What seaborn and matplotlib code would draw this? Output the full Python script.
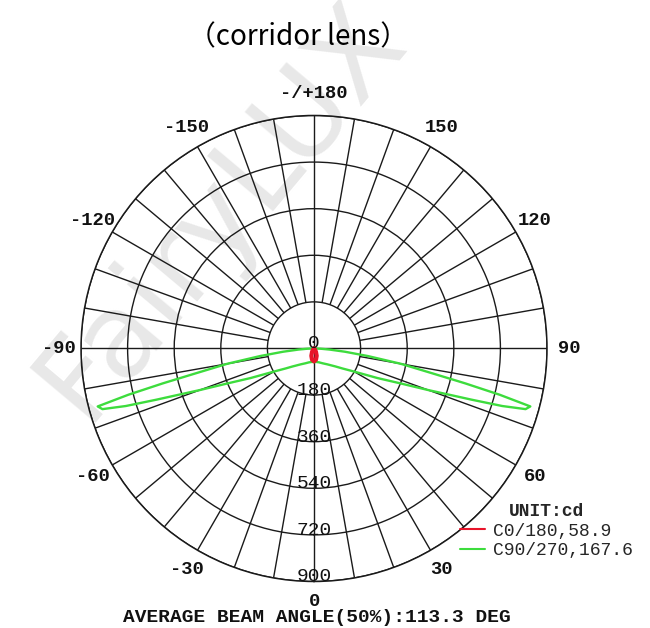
import numpy as np
import pandas as pd
import seaborn as sns
import matplotlib.pyplot as plt
from matplotlib.lines import Line2D

# photometric data, angle from nadir (deg) and intensity (cd)
c90_angles = [0, 10, 20, 30, 40, 50, 55, 60, 65, 68, 70, 72, 73, 74, 75, 76, 77, 78, 80, 82, 84, 86, 88, 90]
c90_cd = [52, 53, 57, 66, 80, 108, 135, 178, 270, 360, 470, 640, 760, 850, 865, 740, 600, 480, 340, 210, 120, 60, 25, 10]
c0_angles = [0, 10, 20, 30, 40, 50, 60, 70, 80, 90]
c0_cd = [50, 44, 30, 15, 6, 2, 1, 0, 0, 0]

planes = ['C0/180', 'C90/270']
legend_labels = ['C0/180,58.9', 'C90/270,167.6']
rings = [180, 360, 540, 720, 900]
ring_labels = ['0', '180', '360', '540', '720', '900']
angle_ticks = [0, 30, 60, 90, 120, 150, 180, -150, -120, -90, -60, -30]
angle_labels = ['0', '30', '60', '90', '120', '150', '-/+180', '-150', '-120', '-90', '-60', '-30']

RED = '#e8142a'
GREEN = '#3ddc3d'
GRID = '#1a1a1a'
MONO = 'Liberation Mono'


def mirror(angles, cd, name):
	a = np.array(angles, dtype=float)
	v = np.array(cd, dtype=float)
	deg = np.concatenate([-a[::-1], a[1:]])
	val = np.concatenate([v[::-1], v[1:]])
	return pd.DataFrame({'theta': np.deg2rad(deg), 'cd': val, 'plane': name})


df = pd.concat([mirror(c0_angles, c0_cd, planes[0]),
				mirror(c90_angles, c90_cd, planes[1])], ignore_index=True)

sns.set_style('white')
plt.rcParams['font.family'] = [MONO, 'DejaVu Sans']

fig = plt.figure(figsize=(6.5, 6.28), dpi=100)

# watermark, kept behind everything
fig.text(0.34, 0.665, 'FairyLUX', rotation=50, fontsize=84, color='#e8e8e8',
		 ha='center', va='center', family='DejaVu Sans', zorder=-5)

ax = fig.add_axes([0.12464, 0.07408, 0.71692, 0.74204], projection='polar')
ax.set_facecolor('none')
ax.set_theta_zero_location('S')
ax.set_theta_direction(1)
ax.set_ylim(0, 900)

ax.set_yticks(rings)
ax.set_yticklabels([])
ax.set_xticks([])
ax.yaxis.grid(True, color=GRID, lw=1.0)
ax.xaxis.grid(False)
ax.spines['polar'].set_color(GRID)
ax.spines['polar'].set_linewidth(1.1)

# spokes every 10 deg, the main cross goes through the centre
spokes = np.arange(0, 360, 10)
inner = np.where(spokes % 90 == 0, 0, rings[0])
ax.vlines(np.deg2rad(spokes), inner, rings[-1], colors=GRID, lw=1.0)

sns.lineplot(data=df, x='theta', y='cd', hue='plane', hue_order=['C90/270', 'C0/180'],
			 palette={'C0/180': RED, 'C90/270': GREEN}, sort=False, estimator=None,
			 legend=False, lw=1.7, ax=ax)
ax.lines[-1].set_lw(3.0)
ax.set_xlabel('')
ax.set_ylabel('')

for r, lab in zip([0] + rings, ring_labels):
	ax.text(0, r, lab, ha='center', va='baseline', fontsize=14, color='#111111')

for a, lab in zip(angle_ticks, angle_labels):
	rr = 978 if a == 0 else 986
	ax.text(np.deg2rad(a), rr, lab, ha='center', va='center', fontsize=13.5,
			weight='bold', color='#111111', clip_on=False)

fig.text(0.487, 1 - 617 / 628, 'AVERAGE BEAM ANGLE(50%):113.3 DEG', ha='center', va='center',
		 fontsize=14, weight='bold', color='#111111')

fig.text(0.458, 1 - 37 / 628, '（corridor lens）', ha='center', va='center', fontsize=20,
		 family=['Noto Sans CJK SC', 'DejaVu Sans'], color='black')

handles = [Line2D([], [], color=RED, lw=1.5), Line2D([], [], color=GREEN, lw=1.5)]
fig.legend(handles, legend_labels, title='UNIT:cd', loc='upper left',
		   bbox_to_anchor=(0.708, 1 - 503 / 628), frameon=False,
		   prop={'family': MONO, 'size': 13},
		   title_fontproperties={'family': MONO, 'weight': 'bold', 'size': 13},
		   handlelength=1.4, handletextpad=0.4, borderpad=0, borderaxespad=0,
		   labelspacing=0.15)

fig.savefig('out.png', dpi=100, facecolor='white')
